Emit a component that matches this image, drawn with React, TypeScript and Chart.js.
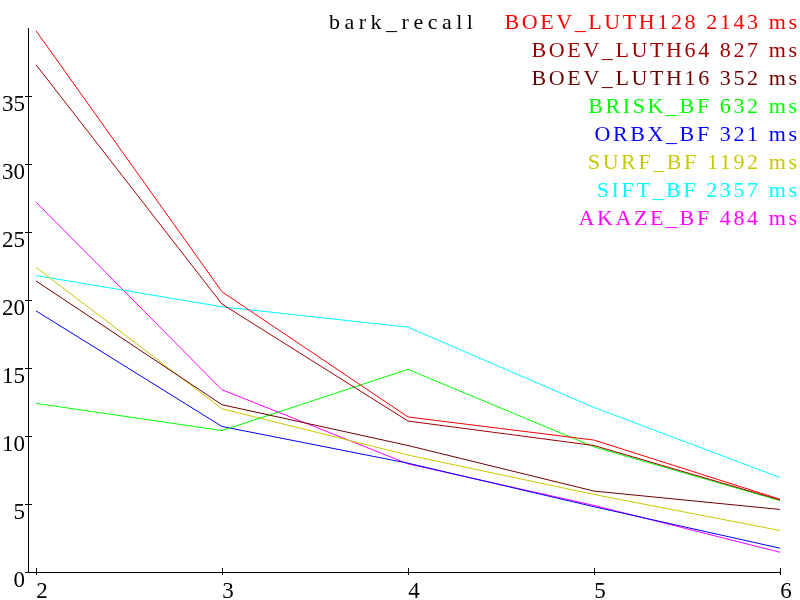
import { useEffect, useRef } from "react";
import { Chart, registerables } from "chart.js";

Chart.register(...registerables);

const chartTitle = "bark_recall";
const xValues = [2, 3, 4, 5, 6];
const yTicks = [0, 5, 10, 15, 20, 25, 30, 35];

const seriesNames = [
  "BOEV_LUTH128",
  "BOEV_LUTH64",
  "BOEV_LUTH16",
  "BRISK_BF",
  "ORBX_BF",
  "SURF_BF",
  "SIFT_BF",
  "AKAZE_BF",
];
const timingsMs = [2143, 827, 352, 632, 321, 1192, 2357, 484];
const seriesColors = [
  "#ff0000",
  "#a00000",
  "#6e0000",
  "#00ff00",
  "#0000ff",
  "#c8c800",
  "#00ffff",
  "#ff00ff",
];

const boevLuth128 = [39.8, 20.6, 11.4, 9.7, 5.35];
const boevLuth64 = [37.3, 19.7, 11.1, 9.3, 5.3];
const boevLuth16 = [21.4, 12.3, 9.3, 5.95, 4.6];
const briskBf = [12.4, 10.4, 14.9, 9.2, 5.25];
const orbxBf = [19.2, 10.7, 8.0, 4.8, 1.75];
const surfBf = [22.4, 12.0, 8.6, 5.7, 3.05];
const siftBf = [21.8, 19.5, 18.0, 12.1, 6.95];
const akazeBf = [27.2, 13.4, 7.95, 4.9, 1.45];

const seriesValues = [boevLuth128, boevLuth64, boevLuth16, briskBf, orbxBf, surfBf, siftBf, akazeBf];

const FONT = '"Liberation Serif", serif';
const LETTER_SPACING = 2.6;
const TITLE_LETTER_SPACING = 4.5;

const overlayPlugin = {
  id: "overlay",
  afterDraw(chart: any) {
    const ctx = chart.ctx as CanvasRenderingContext2D;
    const xs = chart.scales.x;
    const ys = chart.scales.y;
    ctx.save();
    // tick marks crossing the axes
    ctx.strokeStyle = "#000";
    ctx.lineWidth = 1;
    ctx.beginPath();
    for (const v of xValues) {
      const px = Math.round(xs.getPixelForValue(v)) + 0.5;
      ctx.moveTo(px, ys.bottom - 4);
      ctx.lineTo(px, ys.bottom + 3);
    }
    for (const v of yTicks) {
      const py = Math.round(ys.getPixelForValue(v)) + 0.5;
      ctx.moveTo(xs.left - 3, py);
      ctx.lineTo(xs.left + 4, py);
    }
    ctx.stroke();

    // title and legend
    ctx.font = `22px ${FONT}`;
    ctx.textBaseline = "alphabetic";
    ctx.textAlign = "left";
    ctx.fillStyle = "#000";
    (ctx as any).letterSpacing = `${TITLE_LETTER_SPACING}px`;
    ctx.fillText(chartTitle, 329, 29);
    (ctx as any).letterSpacing = `${LETTER_SPACING}px`;
    ctx.textAlign = "right";
    seriesNames.forEach((name, i) => {
      ctx.fillStyle = seriesColors[i];
      ctx.fillText(`${name} ${timingsMs[i]} ms`, 797 + LETTER_SPACING, 29 + i * 28);
    });
    ctx.restore();
  },
};

export default function App() {
  const canvasRef = useRef<HTMLCanvasElement>(null);

  useEffect(() => {
    document.body.style.margin = "0";
    const canvas = canvasRef.current;
    if (!canvas) return;
    const chart = new Chart(canvas, {
      type: "line",
      data: {
        datasets: seriesNames.map((name, i) => ({
          label: name,
          data: xValues.map((x, j) => ({ x, y: seriesValues[i][j] })),
          borderColor: seriesColors[i],
          backgroundColor: seriesColors[i],
          borderWidth: 1,
          pointRadius: 0,
          tension: 0,
          fill: false,
        })),
      },
      options: {
        animation: false,
        responsive: false,
        maintainAspectRatio: false,
        layout: { padding: { top: 28, right: 20, left: 0, bottom: 0 } },
        plugins: {
          legend: { display: false },
          tooltip: { enabled: false },
          title: { display: false },
        },
        scales: {
          x: {
            type: "linear",
            min: 2 - 8 / 186,
            max: 6,
            afterBuildTicks: (scale: any) => {
              scale.ticks = xValues.map((v) => ({ value: v }));
            },
            afterFit: (scale: any) => {
              scale.height = 28;
            },
            grid: { display: true, drawOnChartArea: false, drawTicks: false },
            border: { display: true, color: "#000", width: 1 },
            ticks: {
              color: "#000",
              font: { family: FONT, size: 23, lineHeight: 1 },
              padding: 8,
              labelOffset: 6,
              maxRotation: 0,
              autoSkip: false,
              callback: (v: any) => String(v),
            },
          },
          y: {
            type: "linear",
            min: 0,
            max: 40,
            afterBuildTicks: (scale: any) => {
              scale.ticks = yTicks.map((v) => ({ value: v }));
            },
            afterFit: (scale: any) => {
              scale.width = 28;
            },
            grid: { display: true, drawOnChartArea: false, drawTicks: false },
            border: { display: true, color: "#000", width: 1 },
            ticks: {
              color: "#000",
              font: { family: FONT, size: 23, lineHeight: 1 },
              padding: 3,
              labelOffset: 9,
              autoSkip: false,
              callback: (v: any) => String(v),
            },
          },
        },
      },
      plugins: [overlayPlugin],
    });
    return () => chart.destroy();
  }, []);

  return (
    <div style={{ width: 800, height: 600 }}>
      <canvas ref={canvasRef} width={800} height={600} style={{ display: "block" }} />
    </div>
  );
}
